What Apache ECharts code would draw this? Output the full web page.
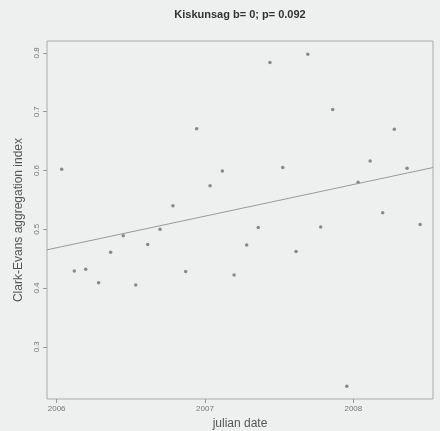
<!DOCTYPE html>
<html>
<head>
<meta charset="utf-8">
<script src="https://cdn.jsdelivr.net/npm/echarts@6.0.0/dist/echarts.min.js"></script>
<style>
html, body { margin: 0; padding: 0; background: #eef0f0; }
#chart { width: 440px; height: 431px; }
</style>
</head>
<body>
<div id="chart"></div>
<script>
// sampling dates (decimal years)
var dates = [2006.034, 2006.119, 2006.196, 2006.283, 2006.364, 2006.449, 2006.533, 2006.614,
             2006.697, 2006.784, 2006.870, 2006.944, 2007.034, 2007.117, 2007.196, 2007.281,
             2007.359, 2007.438, 2007.524, 2007.614, 2007.693, 2007.780, 2007.861, 2007.956,
             2008.032, 2008.113, 2008.198, 2008.276, 2008.362, 2008.450];
// Clark-Evans aggregation index
var ceIndex = [0.602, 0.429, 0.432, 0.409, 0.461, 0.489, 0.405, 0.474,
               0.500, 0.540, 0.428, 0.671, 0.574, 0.599, 0.422, 0.473,
               0.503, 0.784, 0.605, 0.462, 0.798, 0.504, 0.704, 0.233,
               0.580, 0.616, 0.528, 0.670, 0.604, 0.508];
// regression line ends
var fitX = [2005.935, 2008.537];
var fitY = [0.465, 0.605];
var xTicks = [2006, 2007, 2008];
var yTicks = [0.3, 0.4, 0.5, 0.6, 0.7, 0.8];

var font = 'Liberation Sans, Arial, sans-serif';

var points = dates.map(function (d, i) { return [d, ceIndex[i]]; });
var fitLine = fitX.map(function (d, i) { return [d, fitY[i]]; });

var myChart = echarts.init(document.getElementById('chart'));

var option = {
    backgroundColor: '#eef0f0',
    animation: false,
    title: {
        text: 'Kiskunsag b= 0; p= 0.092',
        left: 240,
        top: 9,
        padding: 0,
        textAlign: 'center',
        textStyle: { fontFamily: font, fontSize: 11, fontWeight: 'bold', color: '#333' }
    },
    grid: {
        left: 47, right: 7, top: 41, bottom: 32,
        show: true, borderColor: '#aaa', borderWidth: 1,
        outerBoundsMode: 'none'
    },
    xAxis: {
        type: 'value',
        min: fitX[0], max: fitX[1],
        name: 'julian date',
        nameLocation: 'middle',
        nameGap: 18,
        nameTextStyle: { fontFamily: font, fontSize: 12, color: '#555' },
        axisLine: { show: false },
        splitLine: { show: false },
        axisTick: { show: true, length: 4, lineStyle: { color: '#999' }, customValues: xTicks },
        axisLabel: {
            customValues: xTicks,
            margin: 6,
            fontFamily: font, fontSize: 8, color: '#777',
            formatter: function (v) { return String(v); }
        }
    },
    yAxis: {
        type: 'value',
        min: 0.2111, max: 0.8204,
        name: 'Clark-Evans aggregation index',
        nameLocation: 'middle',
        nameGap: 21,
        nameTextStyle: { fontFamily: font, fontSize: 12, color: '#555' },
        axisLine: { show: false },
        splitLine: { show: false },
        axisTick: { show: true, length: 4, lineStyle: { color: '#999' }, customValues: yTicks },
        axisLabel: {
            customValues: yTicks,
            rotate: 90,
            margin: 6,
            fontFamily: font, fontSize: 8, color: '#777',
            formatter: function (v) { return v.toFixed(1); }
        }
    },
    series: [
        {
            type: 'scatter',
            data: points,
            symbol: 'circle',
            symbolSize: 3.5,
            itemStyle: { color: '#6f6f6f' }
        },
        {
            type: 'line',
            data: fitLine,
            symbol: 'none',
            lineStyle: { color: '#999', width: 1 }
        }
    ]
};
myChart.setOption(option);
</script>
</body>
</html>
